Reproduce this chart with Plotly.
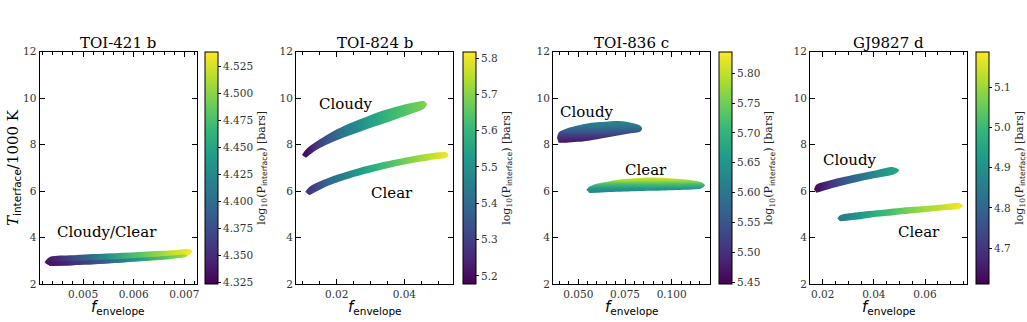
import plotly.graph_objects as go
from plotly.colors import sample_colorscale

W, H = 1027, 322

# ---------------- data ----------------
planets = ["TOI-421 b", "TOI-824 b", "TOI-836 c", "GJ9827 d"]

# Each band: x positions along the band, upper / lower edge of the point cloud
# (equal at the two tips) and log10(P_interface) value at each x.

# TOI-421 b : Cloudy/Clear overlapping (whole cloud + darker lower sub-cloud)
TOI421_all_x = [0.00424, 0.00435, 0.00480, 0.00546, 0.00611, 0.00677, 0.00709, 0.00716]
TOI421_all_top = [2.95, 3.17, 3.24, 3.31, 3.38, 3.45, 3.50, 3.42]
TOI421_all_bot = [2.95, 2.78, 2.81, 2.88, 2.98, 3.09, 3.25, 3.42]
TOI421_all_c = [4.335, 4.34, 4.37, 4.43, 4.48, 4.52, 4.535, 4.535]
TOI421_low_x = [0.00424, 0.00435, 0.00480, 0.00546, 0.00611, 0.00677, 0.00700, 0.00706]
TOI421_low_top = [2.92, 2.97, 2.99, 3.05, 3.13, 3.23, 3.27, 3.22]
TOI421_low_bot = [2.92, 2.78, 2.81, 2.88, 2.98, 3.09, 3.15, 3.22]
TOI421_low_c = [4.33, 4.335, 4.35, 4.39, 4.44, 4.49, 4.505, 4.51]

# TOI-824 b
TOI824_cloudy_x = [0.00975, 0.01093, 0.01389, 0.01783, 0.02275, 0.02767, 0.03260, 0.03752, 0.04244, 0.04589, 0.04668]
TOI824_cloudy_top = [7.55, 7.79, 8.12, 8.48, 8.84, 9.13, 9.41, 9.63, 9.80, 9.87, 9.74]
TOI824_cloudy_bot = [7.55, 7.43, 7.76, 8.05, 8.34, 8.60, 8.84, 9.09, 9.35, 9.56, 9.74]
TOI824_cloudy_c = [5.18, 5.20, 5.28, 5.36, 5.44, 5.51, 5.57, 5.62, 5.66, 5.69, 5.70]
TOI824_clear_x = [0.01074, 0.01192, 0.01783, 0.02275, 0.02767, 0.03260, 0.03752, 0.04244, 0.04737, 0.05230, 0.05310]
TOI824_clear_top = [5.97, 6.18, 6.58, 6.82, 7.04, 7.21, 7.36, 7.50, 7.62, 7.67, 7.54]
TOI824_clear_bot = [5.97, 5.82, 6.25, 6.50, 6.71, 6.90, 7.07, 7.21, 7.33, 7.43, 7.54]
TOI824_clear_c = [5.26, 5.28, 5.40, 5.47, 5.54, 5.60, 5.65, 5.70, 5.75, 5.80, 5.81]

# TOI-836 c : colour changes across the band (low T -> low P), given against y
TOI836_cloudy_x = [0.0386, 0.0395, 0.0435, 0.0495, 0.0555, 0.0615, 0.0675, 0.0735, 0.0795, 0.0830, 0.0842]
TOI836_cloudy_top = [8.30, 8.52, 8.68, 8.82, 8.92, 8.97, 9.01, 9.01, 8.92, 8.82, 8.68]
TOI836_cloudy_bot = [8.30, 8.08, 8.08, 8.12, 8.17, 8.25, 8.34, 8.43, 8.50, 8.55, 8.68]
TOI836_cloudy_gy = [8.05, 8.30, 8.55, 8.80, 9.03]
TOI836_cloudy_gc = [5.46, 5.50, 5.55, 5.60, 5.63]
TOI836_clear_x = [0.0543, 0.0560, 0.0605, 0.0645, 0.0725, 0.0805, 0.0885, 0.0965, 0.1045, 0.1125, 0.1160, 0.1178]
TOI836_clear_top = [6.06, 6.20, 6.33, 6.39, 6.50, 6.55, 6.58, 6.56, 6.52, 6.45, 6.38, 6.25]
TOI836_clear_bot = [6.06, 5.92, 5.93, 5.95, 5.97, 5.99, 6.01, 6.03, 6.05, 6.08, 6.12, 6.25]
TOI836_clear_gy = [5.92, 6.10, 6.30, 6.45, 6.58]
TOI836_clear_gc = [5.62, 5.65, 5.72, 5.78, 5.81]

# GJ9827 d
GJ9827_cloudy_x = [0.0166, 0.0176, 0.0229, 0.0281, 0.0346, 0.0411, 0.0476, 0.0499]
GJ9827_cloudy_top = [6.07, 6.28, 6.47, 6.61, 6.76, 6.90, 7.03, 6.90]
GJ9827_cloudy_bot = [6.07, 5.93, 6.10, 6.25, 6.42, 6.57, 6.71, 6.90]
GJ9827_cloudy_c = [4.62, 4.63, 4.70, 4.76, 4.83, 4.89, 4.94, 4.95]
GJ9827_clear_x = [0.0257, 0.0268, 0.0346, 0.0411, 0.0476, 0.0541, 0.0606, 0.0671, 0.0736, 0.0747]
GJ9827_clear_top = [4.82, 4.96, 5.10, 5.17, 5.25, 5.32, 5.36, 5.42, 5.48, 5.36]
GJ9827_clear_bot = [4.82, 4.70, 4.79, 4.89, 4.96, 5.03, 5.10, 5.17, 5.25, 5.36]
GJ9827_clear_c = [4.84, 4.85, 4.92, 4.98, 5.02, 5.07, 5.11, 5.14, 5.18, 5.18]

# axis / colour ranges and tick settings
x_ranges = [[0.00414, 0.00725], [0.00798, 0.05439], [0.03646, 0.1205], [0.01504, 0.0764]]
x_dticks = [0.001, 0.02, 0.025, 0.02]
x_minor = [0.0002, 0.005, 0.005, 0.005]
x_formats = [".3f", ".2f", ".3f", ".2f"]
c_ranges = [[4.3234, 4.5386], [5.178, 5.817], [5.447, 5.836], [4.611, 5.188]]
c_tick0 = [4.325, 5.2, 5.45, 4.7]
c_dticks = [0.025, 0.1, 0.05, 0.1]
c_formats = [".3f", ".1f", ".2f", ".1f"]

labels = [
    [("Cloudy/Clear", 0.00548, 4.24)],
    [("Cloudy", 0.0228, 9.75), ("Clear", 0.0364, 5.90)],
    [("Cloudy", 0.0545, 9.41), ("Clear", 0.0862, 6.90)],
    [("Cloudy", 0.0307, 7.33), ("Clear", 0.0576, 4.24)],
]

# ---------------- layout geometry (pixels) ----------------
plot_px = [(39.5, 197), (296, 453), (553, 710), (810, 967)]
cbar_px = [205, 463, 719, 976]
top_px, bot_px = 51.7, 284

SERIF = "DejaVu Serif"
SANS = "DejaVu Sans"

fig = go.Figure()


def axname(panel):
    return "" if panel == 0 else str(panel + 1)


def colors_for(panel, vals):
    lo, hi = c_ranges[panel]
    return sample_colorscale("Viridis", [min(max((v - lo) / (hi - lo), 0), 1) for v in vals])


def band(panel, xs, top, bot, pos, cs, orientation):
    ax = axname(panel)
    px = list(xs) + list(xs[-2:0:-1])
    py = list(top) + list(bot[-2:0:-1])
    cols = colors_for(panel, cs)
    p0, p1 = pos[0], pos[-1]
    scale = [[(p - p0) / (p1 - p0), c] for p, c in zip(pos, cols)]
    fig.add_trace(go.Scatter(
        x=px, y=py, mode="lines", fill="toself", xaxis="x" + ax, yaxis="y" + ax,
        line=dict(width=0, shape="spline", smoothing=0.9, color="rgba(0,0,0,0)"),
        fillgradient=dict(type=orientation, colorscale=scale, start=p0, stop=p1),
        showlegend=False, hoverinfo="skip"))


def scale_holder(panel, xs, ys, cs):
    ax = axname(panel)
    fig.add_trace(go.Scatter(
        x=xs, y=ys, mode="markers", xaxis="x" + ax, yaxis="y" + ax,
        marker=dict(color=cs, coloraxis="coloraxis" + ax, size=2, opacity=0),
        showlegend=False, hoverinfo="skip"))


band(0, TOI421_all_x, TOI421_all_top, TOI421_all_bot, TOI421_all_x, TOI421_all_c, "horizontal")
band(0, TOI421_low_x, TOI421_low_top, TOI421_low_bot, TOI421_low_x, TOI421_low_c, "horizontal")
scale_holder(0, TOI421_all_x, TOI421_all_top, TOI421_all_c)

band(1, TOI824_cloudy_x, TOI824_cloudy_top, TOI824_cloudy_bot, TOI824_cloudy_x, TOI824_cloudy_c, "horizontal")
band(1, TOI824_clear_x, TOI824_clear_top, TOI824_clear_bot, TOI824_clear_x, TOI824_clear_c, "horizontal")
scale_holder(1, TOI824_cloudy_x, TOI824_cloudy_top, TOI824_cloudy_c)

band(2, TOI836_cloudy_x, TOI836_cloudy_top, TOI836_cloudy_bot, TOI836_cloudy_gy, TOI836_cloudy_gc, "vertical")
band(2, TOI836_clear_x, TOI836_clear_top, TOI836_clear_bot, TOI836_clear_gy, TOI836_clear_gc, "vertical")
scale_holder(2, TOI836_clear_x[:5], TOI836_clear_gy, TOI836_clear_gc)

band(3, GJ9827_cloudy_x, GJ9827_cloudy_top, GJ9827_cloudy_bot, GJ9827_cloudy_x, GJ9827_cloudy_c, "horizontal")
band(3, GJ9827_clear_x, GJ9827_clear_top, GJ9827_clear_bot, GJ9827_clear_x, GJ9827_clear_c, "horizontal")
scale_holder(3, GJ9827_clear_x, GJ9827_clear_top, GJ9827_clear_c)

layout = dict(
    template="none",
    width=W, height=H, margin=dict(l=0, r=0, t=0, b=0, autoexpand=False),
    paper_bgcolor="white", plot_bgcolor="white",
    font=dict(family=SERIF, size=11, color="#222"),
    annotations=[],
)
ydom = [1 - bot_px / H, 1 - top_px / H]
tickfont = dict(family=SERIF, size=10.5, color="#333")
cbar_title = "log<sub>10</sub>(P<sub><span style='font-family:DejaVu Sans'>interface</span></sub>) [bars]"

for i in range(4):
    ax = axname(i)
    x0, x1 = plot_px[i]
    layout["xaxis" + ax] = dict(
        domain=[x0 / W, x1 / W], anchor="y" + ax, range=x_ranges[i], automargin=False,
        dtick=x_dticks[i], tick0=0, tickformat=x_formats[i],
        ticks="inside", ticklen=5, tickwidth=1, tickcolor="black",
        showline=True, linecolor="black", linewidth=1, mirror="allticks",
        showgrid=False, zeroline=False, tickfont=tickfont,
        minor=dict(ticks="inside", dtick=x_minor[i], ticklen=3, tickwidth=1, tickcolor="black", showgrid=False),
    )
    layout["yaxis" + ax] = dict(
        domain=ydom, anchor="x" + ax, range=[2, 12], dtick=2, automargin=False,
        ticks="inside", ticklen=5, tickwidth=1, tickcolor="black",
        showline=True, linecolor="black", linewidth=1, mirror="allticks",
        showgrid=False, zeroline=False, tickfont=tickfont,
    )
    layout["coloraxis" + ax] = dict(
        colorscale="Viridis", cmin=c_ranges[i][0], cmax=c_ranges[i][1],
        colorbar=dict(
            x=cbar_px[i] / W, xanchor="left", xpad=0, ypad=0,
            y=1 - (top_px + bot_px) / 2 / H, yanchor="middle",
            len=(bot_px - top_px) / H, lenmode="fraction",
            thickness=13, thicknessmode="pixels",
            outlinewidth=1, outlinecolor="black",
            tick0=c_tick0[i], dtick=c_dticks[i], tickformat=c_formats[i],
            ticks="outside", ticklen=3, tickcolor="black", tickfont=tickfont,
            title=dict(text=cbar_title, side="right", font=dict(family=SERIF, size=11, color="#222")),
        ),
    )
    # panel title
    layout["annotations"].append(dict(
        text=planets[i], x=(x0 + x1) / 2 / W, y=1 - 42.5 / H, xref="paper", yref="paper",
        showarrow=False, xanchor="center", yanchor="middle", font=dict(family=SERIF, size=15, color="black")))
    # x-axis title
    layout["annotations"].append(dict(
        text="<i>f</i><sub>envelope</sub>",
        x=(x0 + x1) / 2 / W, y=1 - 307 / H, xref="paper", yref="paper",
        showarrow=False, xanchor="center", yanchor="middle", font=dict(family=SANS, size=15, color="black")))
    # band labels
    for txt, lx, ly in labels[i]:
        layout["annotations"].append(dict(
            text=txt, x=lx, y=ly, xref="x" + ax, yref="y" + ax, showarrow=False,
            xanchor="center", yanchor="middle", font=dict(family=SERIF, size=15, color="black")))

# y-axis title (first panel only)
layout["annotations"].append(dict(
    text="<i>T</i><sub><span style='font-family:DejaVu Sans'>interface</span></sub>/1000 K",
    x=13 / W, y=1 - 168 / H, xref="paper", yref="paper", textangle=-90,
    showarrow=False, xanchor="center", yanchor="middle", font=dict(family=SERIF, size=15, color="black")))

fig.update_layout(**layout)
fig.write_html("out.html")
